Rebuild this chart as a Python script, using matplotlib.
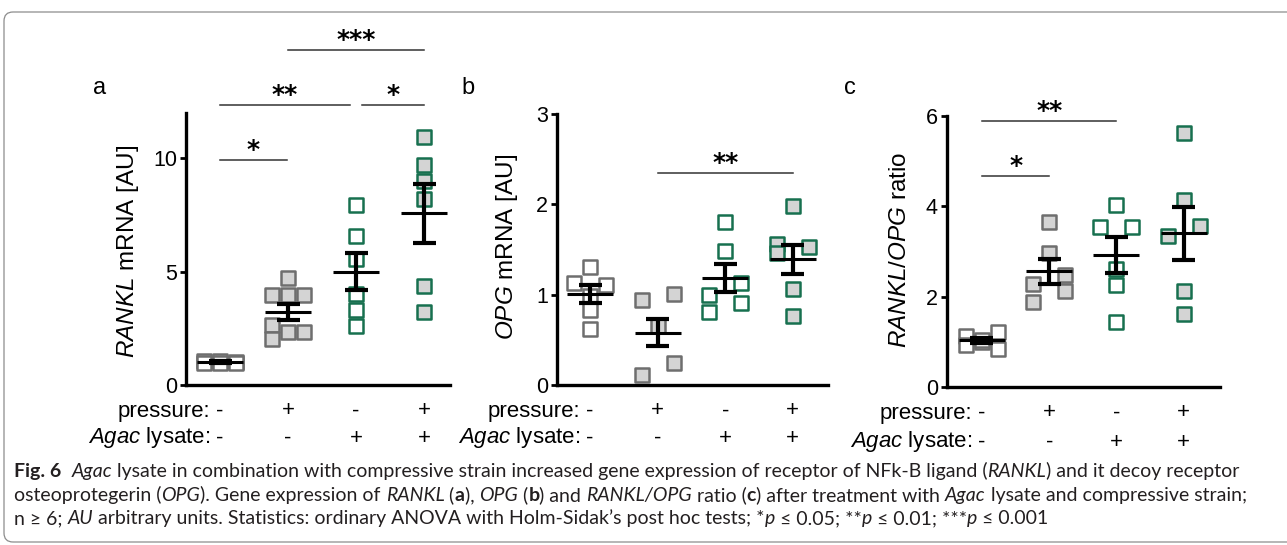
import matplotlib
matplotlib.use("Agg")
import matplotlib.pyplot as plt
import numpy as np
from matplotlib.transforms import blended_transform_factory, IdentityTransform, offset_copy
from matplotlib.patches import FancyBboxPatch

# ---------------- data ----------------
pressure = ["-", "+", "-", "+"]
agac = ["-", "-", "+", "+"]

# panel a: RANKL mRNA [AU]
rankl_vals = [
    [1.05, 0.96, 1.06, 0.95, 1.03, 0.97],
    [4.72, 3.98, 3.98, 3.98, 2.65, 2.36, 2.32, 2.02],
    [7.96, 6.56, 5.56, 4.01, 3.32, 2.61],
    [10.94, 9.69, 9.00, 8.19, 4.38, 3.22],
]
rankl_mean = [1.00, 3.22, 4.99, 7.57]
rankl_sem = [0.05, 0.35, 0.82, 1.29]

# panel b: OPG mRNA [AU]
opg_vals = [
    [1.31, 1.13, 1.11, 0.98, 0.83, 0.62],
    [0.94, 1.01, 0.65, 0.24, 0.11],
    [1.80, 1.48, 1.13, 1.00, 0.91, 0.81],
    [1.98, 1.56, 1.53, 1.46, 1.06, 0.76],
]
opg_mean = [1.01, 0.58, 1.18, 1.39]
opg_sem = [0.10, 0.15, 0.155, 0.165]

# panel c: RANKL/OPG ratio
ratio_vals = [
    [1.14, 0.92, 1.00, 1.05, 1.22, 0.85],
    [3.66, 2.97, 2.48, 2.29, 2.13, 1.88],
    [4.03, 3.55, 3.55, 2.62, 2.25, 1.44],
    [5.63, 4.14, 3.56, 3.34, 2.13, 1.61],
]
ratio_mean = [1.03, 2.56, 2.92, 3.40]
ratio_sem = [0.05, 0.27, 0.39, 0.585]

# significance brackets: (group from, group to, height, label)
sig_a = [(0, 0.985, 9.91, "*"), (0, 1.91, 12.35, "**"), (2.09, 3.0, 12.35, "*"), (1, 3, 14.78, "***")]
sig_b = [(1, 3, 2.35, "**")]
sig_c = [(0, 1, 4.67, "*"), (0, 2, 5.88, "**")]

# ---------------- layout / style ----------------
# horizontal jitter slots of each point (-1, 0, +1 marker widths)
jit_a = [[-1, -1, 0, 0, 1, 1], [0, -1, 0, 1, -1, 0, 1, -1], [0] * 6, [0] * 6]
jit_b = [[0, -1, 1, 0, 0, 0], [-1, 1, 0, 1, -1], [0, 0, 1, -1, 1, -1], [0, -1, 1, -1, 0, 0]]
jit_c = [[-1, -1, 0, 0, 1, 1], [0, 0, 1, -1, 1, -1], [0, -1, 1, 0, 0, 0], [0, 0, 1, -1, 0, 0]]

W, H = 1287, 545
GRAY_E = "#6e6e6e"
GRAY_F = "#d4d4d4"
GREEN = "#17704f"
faces = ["white", GRAY_F, "white", GRAY_F]
edges = [GRAY_E, GRAY_E, GREEN, GREEN]

plt.rcParams["font.family"] = ["Liberation Sans", "DejaVu Sans"]
plt.rcParams["mathtext.fontset"] = "custom"
plt.rcParams["mathtext.rm"] = "Liberation Sans"
plt.rcParams["mathtext.it"] = "Liberation Sans:italic"
plt.rcParams["mathtext.bf"] = "Liberation Sans:bold"

fig = plt.figure(figsize=(W / 100, H / 100), dpi=100)

# frame
frame = FancyBboxPatch((4, 3), 1320, 530, boxstyle="round,pad=0,rounding_size=9",
                       transform=IdentityTransform(), fill=False, ec="#8c8c8c", lw=0.9)
fig.patches.append(frame)


def px_rect(left, right, bottom, top):
    return [left / W, (H - bottom) / H, (right - left) / W, (bottom - top) / H]


panels = [
    dict(rect=px_rect(186, 450, 385, 113), xlim=(-0.5, 3.38), ylim=(0, 12), yticks=[0, 5, 10],
         vals=rankl_vals, mean=rankl_mean, sem=rankl_sem, jit=jit_a, sig=sig_a,
         ylabel=r"$\it{RANKL}$ mRNA [AU]", ylab_xy=(128, 251), letter="a", letter_xy=(100, 88),
         rows_y=(411, 438)),
    dict(rect=px_rect(557, 828, 385, 114), xlim=(-0.49, 3.52), ylim=(0, 3), yticks=[0, 1, 2, 3],
         vals=opg_vals, mean=opg_mean, sem=opg_sem, jit=jit_b, sig=sig_b,
         ylabel=r"$\it{OPG}$ mRNA [AU]", ylab_xy=(507, 247), letter="b", letter_xy=(468, 88),
         rows_y=(411, 438)),
    dict(rect=px_rect(947, 1220, 387, 116), xlim=(-0.52, 3.54), ylim=(0, 6), yticks=[0, 2, 4, 6],
         vals=ratio_vals, mean=ratio_mean, sem=ratio_sem, jit=jit_c, sig=sig_c,
         ylabel=r"$\it{RANKL/OPG}$ ratio", ylab_xy=(900, 250), letter="c", letter_xy=(850, 88),
         rows_y=(413, 442)),
]

for p in panels:
    ax = fig.add_axes(p["rect"])
    ax.set_xlim(*p["xlim"])
    ax.set_ylim(*p["ylim"])
    ax_w_px = p["rect"][2] * W
    u = (p["xlim"][1] - p["xlim"][0]) / ax_w_px  # data units per pixel
    for s in ["top", "right"]:
        ax.spines[s].set_visible(False)
    for s in ["left", "bottom"]:
        ax.spines[s].set_linewidth(2.4)
        ax.spines[s].set_color("black")
    ax.set_xticks([])
    ax.set_yticks(p["yticks"])
    ax.tick_params(axis="y", length=4.5, width=2.0, pad=2, labelsize=15.5, colors="black")

    for g, vals in enumerate(p["vals"]):
        xs = g + np.array(p["jit"][g][:len(vals)]) * 16 * u
        ax.scatter(xs, vals, marker="s", s=88, facecolor=faces[g], edgecolor=edges[g],
                   linewidths=1.8, zorder=3, clip_on=False)
        m, e = p["mean"][g], p["sem"][g]
        ax.vlines(g, m - e, m + e, color="black", lw=3.0, zorder=4)
        ax.hlines([m - e, m + e], g - 11.5 * u, g + 11.5 * u, color="black", lw=3.0, zorder=4)
        ax.hlines(m, g - 23 * u, g + 23 * u, color="black", lw=2.2, zorder=4)

    star_tr = offset_copy(ax.transData, fig=fig, x=0, y=3, units="dots")
    for x1, x2, yv, lab in p["sig"]:
        ax.plot([x1, x2], [yv, yv], color="#333333", lw=1.1, clip_on=False)
        ax.text((x1 + x2) / 2, yv, lab, transform=star_tr, ha="center", va="baseline",
                fontsize=18, family="DejaVu Sans", fontweight="bold", color="black")

    fig.text(p["ylab_xy"][0] / W, 1 - p["ylab_xy"][1] / H, p["ylabel"], rotation=90,
             ha="center", va="center", fontsize=17.5)
    fig.text(p["letter_xy"][0] / W, 1 - p["letter_xy"][1] / H, p["letter"],
             ha="center", va="center", fontsize=17)

    # condition rows
    tr = blended_transform_factory(ax.transData, IdentityTransform())
    tr_lab = offset_copy(tr, fig=fig, x=-10, y=0, units="dots")
    y1, y2 = H - p["rows_y"][0], H - p["rows_y"][1]
    ax.text(0, y1, "pressure:", transform=tr_lab, ha="right", va="center", fontsize=16)
    ax.text(0, y2, r"$\it{Agac}$ lysate:", transform=tr_lab, ha="right", va="center", fontsize=16)
    for g in range(4):
        ax.text(g, y1, pressure[g], transform=tr, ha="center", va="center", fontsize=16)
        ax.text(g, y2, agac[g], transform=tr, ha="center", va="center", fontsize=16)

# ---------------- caption ----------------
CAP_FAMILY = ["Lato", "DejaVu Sans"]
CAP_COLOR = "#231f20"
line1 = [("Fig. 6", "b"), ("  ", ""), ("Agac", "i"),
         (" lysate in combination with compressive strain increased gene expression of receptor of NFk-B ligand (", ""),
         ("RANKL", "i"), (") and it decoy receptor", "")]
line2 = [("osteoprotegerin (", ""), ("OPG", "i"), ("). Gene expression of ", ""), ("RANKL", "i"), (" (", ""),
         ("a", "b"), ("), ", ""), ("OPG", "i"), (" (", ""), ("b", "b"), (") and ", ""), ("RANKL/OPG", "i"),
         (" ratio (", ""), ("c", "b"), (") after treatment with ", ""), ("Agac", "i"),
         (" lysate and compressive strain;", "")]
line3 = [("n \u2265 6; ", ""), ("AU", "i"),
         (" arbitrary units. Statistics: ordinary ANOVA with Holm-Sidak\u2019s post hoc tests; *", ""),
         ("p", "i"), (" \u2264 0.05; **", ""), ("p", "i"), (" \u2264 0.01; ***", ""), ("p", "i"), (" \u2264 0.001", "")]

renderer = fig.canvas.get_renderer()


def seg_width(txt, style, size):
    kw = dict(fontsize=size, family=CAP_FAMILY, fontstyle="italic" if "i" in style else "normal",
              fontweight="bold" if "b" in style else "normal")
    t1 = fig.text(0, 0, "|" + txt + "|", **kw)
    t2 = fig.text(0, 0, "||", **kw)
    w = t1.get_window_extent(renderer).width - t2.get_window_extent(renderer).width
    t1.remove()
    t2.remove()
    return w


def draw_line(segs, x_px, base_px, size):
    x = x_px
    for txt, style in segs:
        fig.text(x / W, 1 - base_px / H, txt, fontsize=size, family=CAP_FAMILY,
                 fontstyle="italic" if "i" in style else "normal",
                 fontweight="bold" if "b" in style else "normal",
                 ha="left", va="baseline", color=CAP_COLOR)
        x += seg_width(txt, style, size)


base = 10.0
w1 = sum(seg_width(t, s, base) for t, s in line1)
cap_size = base * 1223 / w1
draw_line(line1, 14, 477, cap_size)
draw_line(line2, 14, 501, cap_size)
draw_line(line3, 14, 524, cap_size)

fig.savefig("out.png", dpi=100)
